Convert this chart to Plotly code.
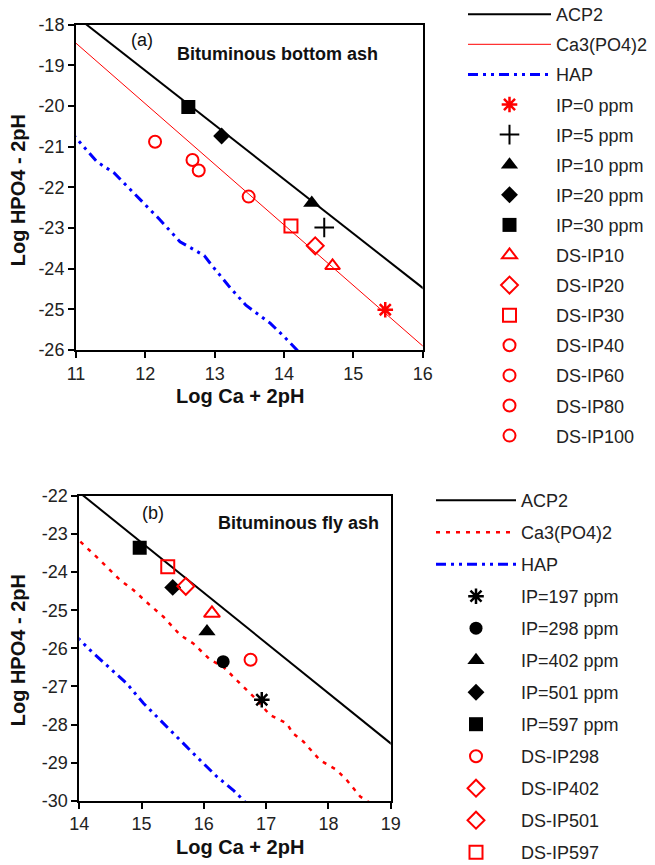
import plotly.graph_objects as go

# ---------------- Panel (a) data ----------------
acp2_a_x = [11.0, 16.11]
acp2_a_y = [-17.8, -24.62]
tcp_a_x = [11.0, 16.04]
tcp_a_y = [-18.46, -25.96]
hap_a_x = [10.9, 11.3, 11.55, 11.75, 11.95, 12.2, 12.5, 12.85, 12.95, 13.2, 13.45, 13.8, 14.0, 14.3]
hap_a_y = [-20.59, -21.37, -21.65, -22.0, -22.35, -22.78, -23.34, -23.68, -23.9, -24.42, -24.9, -25.34, -25.67, -26.2]

pts_a_names = ["IP=0 ppm", "IP=5 ppm", "IP=10 ppm", "IP=20 ppm", "IP=30 ppm",
               "DS-IP10", "DS-IP20", "DS-IP30", "DS-IP40", "DS-IP60", "DS-IP80", "DS-IP100"]
pts_a_x = [15.46, 14.58, 14.40, 13.10, 12.62, 14.70, 14.45, 14.10, 13.49, 12.77, 12.68, 12.14]
pts_a_y = [-25.01, -22.99, -22.39, -20.74, -20.03, -23.93, -23.44, -22.95, -22.23, -21.59, -21.33, -20.88]

# ---------------- Panel (b) data ----------------
acp2_b_x = [13.95, 19.14]
acp2_b_y = [-21.84, -28.68]
tcp_b_x = [13.9, 14.33, 14.65, 14.87, 15.13, 15.35, 15.62, 15.83, 16.1, 16.31, 16.58, 16.85,
           17.06, 17.33, 17.43, 17.6, 17.86, 18.13, 18.29, 18.51, 18.72]
tcp_b_y = [-23.02, -23.68, -24.2, -24.47, -24.86, -25.17, -25.65, -25.87, -26.3, -26.48, -26.92, -27.35,
           -27.75, -27.97, -28.23, -28.45, -28.93, -29.19, -29.45, -29.89, -30.11]
hap_b_x = [13.9, 14.17, 14.49, 14.76, 15.03, 15.24, 15.62, 15.88, 16.21, 16.47, 16.74]
hap_b_y = [-25.6, -26.04, -26.52, -26.92, -27.44, -27.79, -28.4, -28.84, -29.37, -29.72, -30.16]

pts_b_names = ["IP=197 ppm", "IP=298 ppm", "IP=402 ppm", "IP=501 ppm", "IP=597 ppm",
               "DS-IP298", "DS-IP402", "DS-IP501", "DS-IP597"]
pts_b_x = [16.93, 16.31, 16.05, 15.50, 14.97, 16.75, 16.13, 15.71, 15.42]
pts_b_y = [-27.35, -26.35, -25.56, -24.40, -23.36, -26.30, -25.08, -24.37, -23.86]

# ---------------- axis ticks ----------------
xa_ticks = [11, 12, 13, 14, 15, 16]
xa_text = ["11", "12", "13", "14", "15", "16"]
ya_ticks = [-18, -19, -20, -21, -22, -23, -24, -25, -26]
ya_text = ["-18", "-19", "-20", "-21", "-22", "-23", "-24", "-25", "-26"]
xb_ticks = [14, 15, 16, 17, 18, 19]
xb_text = ["14", "15", "16", "17", "18", "19"]
yb_ticks = [-22, -23, -24, -25, -26, -27, -28, -29, -30]
yb_text = ["-22", "-23", "-24", "-25", "-26", "-27", "-28", "-29", "-30"]

RED = "#ff0000"
BLUE = "#0000ff"
FONT = "Liberation Sans, Arial, sans-serif"

sym_a = [("asterisk", RED, 2.5), ("cross-thin", "black", 2), ("triangle-up", "black", 0),
         ("diamond", "black", 0), ("square", "black", 0), ("triangle-up-open", RED, 2),
         ("diamond-open", RED, 2), ("square-open", RED, 2), ("circle-open", RED, 2),
         ("circle-open", RED, 2), ("circle-open", RED, 2), ("circle-open", RED, 2)]
size_a = [13, 14, 15, 13, 14, 13, 13, 13, 12, 12, 12, 12]

sym_b = [("asterisk", "black", 2.5), ("circle", "black", 0), ("triangle-up", "black", 0),
         ("diamond", "black", 0), ("square", "black", 0), ("circle-open", RED, 2),
         ("triangle-up-open", RED, 2), ("diamond-open", RED, 2), ("square-open", RED, 2)]
size_b = [13, 13, 15, 13, 14, 12, 14, 13, 13]

fig = go.Figure()

def add_line(x, y, name, color, width, dash, xa, ya, legend, grp):
    fig.add_trace(go.Scatter(x=x, y=y, mode="lines", name=name,
                             line=dict(color=color, width=width, dash=dash),
                             xaxis=xa, yaxis=ya, legend=legend, legendgroup=grp))

def add_pt(x, y, name, sym, size, xa, ya, legend, grp, showlegend=True):
    s, c, lw = sym
    if s.endswith("open") or s in ("asterisk", "cross-thin"):
        marker = dict(symbol=s, size=size, color=c, line=dict(color=c, width=lw))
    else:
        marker = dict(symbol=s, size=size, color=c, line=dict(width=0))
    fig.add_trace(go.Scatter(x=[x], y=[y], mode="markers", name=name, marker=marker,
                             xaxis=xa, yaxis=ya, legend=legend, legendgroup=grp,
                             showlegend=showlegend))

# panel (a)
add_line(acp2_a_x, acp2_a_y, "ACP2", "black", 2, "solid", "x", "y", "legend", "a0")
add_line(tcp_a_x, tcp_a_y, "Ca3(PO4)2", RED, 1, "solid", "x", "y", "legend", "a1")
add_line(hap_a_x, hap_a_y, "HAP", BLUE, 3, "10px,5px,3px,5px,3px,5px", "x", "y", "legend", "a2")
for i, n in enumerate(pts_a_names):
    add_pt(pts_a_x[i], pts_a_y[i], n, sym_a[i], size_a[i], "x", "y", "legend", "a%d" % (i + 3))

# panel (b)
add_line(acp2_b_x, acp2_b_y, "ACP2", "black", 2, "solid", "x2", "y2", "legend2", "b0")
add_line(tcp_b_x, tcp_b_y, "Ca3(PO4)2", RED, 2.5, "4px,6px", "x2", "y2", "legend2", "b1")
add_line(hap_b_x, hap_b_y, "HAP", BLUE, 3, "10px,5px,3px,5px,3px,5px", "x2", "y2", "legend2", "b2")
for i, n in enumerate(pts_b_names):
    if n == "DS-IP402":
        add_pt(pts_b_x[i], pts_b_y[i], n, sym_b[i], size_b[i], "x2", "y2", "legend2", "b%d" % (i + 3),
               showlegend=False)
        # legend entry as printed in the original legend (diamond symbol)
        fig.add_trace(go.Scatter(x=[None], y=[None], mode="markers", name=n,
                                 marker=dict(symbol="diamond-open", size=13, color=RED,
                                             line=dict(color=RED, width=2)),
                                 xaxis="x2", yaxis="y2", legend="legend2",
                                 legendgroup="b%d" % (i + 3)))
    else:
        add_pt(pts_b_x[i], pts_b_y[i], n, sym_b[i], size_b[i], "x2", "y2", "legend2", "b%d" % (i + 3))

W, H = 655, 865
axis_common = dict(showline=True, linewidth=2, linecolor="black", mirror=True,
                   ticks="outside", ticklen=6, tickwidth=1.5, tickcolor="black",
                   showgrid=False, zeroline=False,
                   tickfont=dict(family=FONT, size=18, color="#222"))

fig.update_layout(
    width=W, height=H,
    margin=dict(l=0, r=0, t=0, b=0, autoexpand=False),
    paper_bgcolor="white", plot_bgcolor="white",
    font=dict(family=FONT, color="#222"),
    xaxis=dict(domain=[76 / W, 422.7 / W], range=[11, 16], anchor="y",
               tickmode="array", tickvals=xa_ticks, ticktext=xa_text, **axis_common),
    yaxis=dict(domain=[1 - 350 / H, 1 - 24.5 / H], range=[-26, -18], anchor="x",
               tickmode="array", tickvals=ya_ticks, ticktext=ya_text, **axis_common),
    xaxis2=dict(domain=[79.3 / W, 390.7 / W], range=[14, 19], anchor="y2",
                tickmode="array", tickvals=xb_ticks, ticktext=xb_text, **axis_common),
    yaxis2=dict(domain=[1 - 800.7 / H, 1 - 496 / H], range=[-30, -22], anchor="x2",
                tickmode="array", tickvals=yb_ticks, ticktext=yb_text, **axis_common),
    legend=dict(x=463 / W, y=1 + 4 / H, xanchor="left", yanchor="top", maxheight=700,
                itemwidth=83, traceorder="grouped", tracegroupgap=3.7,
                font=dict(family=FONT, size=18, color="#222"), bgcolor="rgba(0,0,0,0)"),
    legend2=dict(x=431 / W, y=1 - 482 / H, xanchor="left", yanchor="top", maxheight=700,
                 itemwidth=80, traceorder="grouped", tracegroupgap=5.6,
                 font=dict(family=FONT, size=18, color="#222"), bgcolor="rgba(0,0,0,0)"),
    showlegend=True,
)

ann = [
    dict(text="(a)", x=11.95, y=-18.38, xref="x", yref="y", size=18, bold=False),
    dict(text="Bituminous bottom ash", x=13.9, y=-18.72, xref="x", yref="y", size=18, bold=True),
    dict(text="(b)", x=15.19, y=-22.45, xref="x2", yref="y2", size=18, bold=False),
    dict(text="Bituminous fly ash", x=17.52, y=-22.70, xref="x2", yref="y2", size=18, bold=True),
]
for a in ann:
    t = "<b>%s</b>" % a["text"] if a["bold"] else a["text"]
    fig.add_annotation(text=t, x=a["x"], y=a["y"], xref=a["xref"], yref=a["yref"],
                       showarrow=False, xanchor="center", yanchor="middle",
                       font=dict(family=FONT, size=a["size"], color="#111"))

titles = [
    ("Log Ca + 2pH", 240, 396, 0),
    ("Log HPO4 - 2pH", 18.3, 190, -90),
    ("Log Ca + 2pH", 240, 846.7, 0),
    ("Log HPO4 - 2pH", 18.3, 650, -90),
]
for t, px, py, ang in titles:
    fig.add_annotation(text="<b>%s</b>" % t, x=px / W, y=1 - py / H, xref="paper", yref="paper",
                       showarrow=False, xanchor="center", yanchor="middle", textangle=ang,
                       font=dict(family=FONT, size=20, color="#111"))

fig.write_html("out.html", config={"displayModeBar": False},
               post_script="document.body.style.margin='0';document.body.style.overflow='hidden';")
